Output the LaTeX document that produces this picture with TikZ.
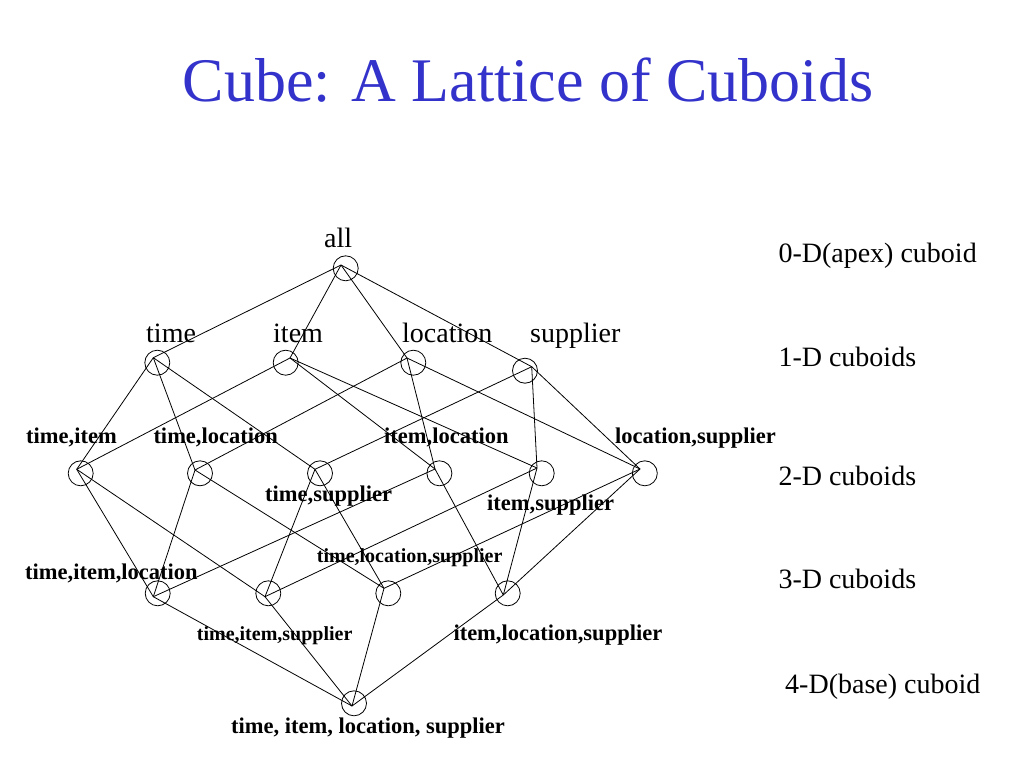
\documentclass[tikz,border=0pt]{standalone}
\usepackage{fontspec}
\setmainfont{Liberation Serif}
\definecolor{titleblue}{RGB}{51,51,204}
\begin{document}
\begin{tikzpicture}[x=1pt,y=-1pt,
  cub/.style={draw,circle,minimum size=25pt,inner sep=0pt,line width=0.8pt},
  edge/.style={line width=0.8pt},
  lab/.style={anchor=base west,inner sep=0pt,font=\fontsize{28}{32}\selectfont},
  blab/.style={anchor=base west,inner sep=0pt,font=\fontsize{22.5}{26}\selectfont\bfseries},
  slab/.style={anchor=base west,inner sep=0pt,font=\fontsize{20}{24}\selectfont\bfseries}]
\useasboundingbox[fill=white] (0,0) rectangle (1024,768);
% title
\node[anchor=base,inner sep=0pt,text=titleblue,font=\fontsize{62}{70}\selectfont] (title) at (528,101) {Cube: A Lattice of Cuboids};
% circles
\node[cub] (apex) at (345.7,268.3) {};
\node[cub] (t) at (157.3,362.7) {};
\node[cub] (i) at (285.7,362.7) {};
\node[cub] (l) at (413.3,362.7) {};
\node[cub] (s) at (525,370.7) {};
\node[cub] (ti) at (80.7,473.3) {};
\node[cub] (tl) at (200,473.3) {};
\node[cub] (ts) at (320,473.3) {};
\node[cub] (il) at (439.4,473.3) {};
\node[cub] (is) at (541.7,473.3) {};
\node[cub] (ls) at (644.8,473.3) {};
\node[cub] (til) at (157.7,593.3) {};
\node[cub] (tis) at (268.3,593.3) {};
\node[cub] (tls) at (388.3,593.3) {};
\node[cub] (ils) at (507.7,593.3) {};
\node[cub] (base) at (354,703.3) {};
% convergence points
\coordinate (apexp) at (341,265);
\coordinate (tp) at (153.3,357.7);
\coordinate (ip) at (290,358);
\coordinate (lp) at (407,358);
\coordinate (sp) at (531.7,366.7);
\coordinate (tip) at (76.7,469.3);
\coordinate (tlp) at (195,470);
\coordinate (tsp) at (315,469.3);
\coordinate (ilp) at (435,469);
\coordinate (isp) at (537,468);
\coordinate (lsp) at (640,469);
\coordinate (tilp) at (153.3,596.7);
\coordinate (tisp) at (265,596.7);
\coordinate (tlsp) at (384,588.3);
\coordinate (ilsp) at (503.3,595);
\coordinate (basep) at (352,706);
% edges
\draw[edge] (apexp) -- (tp);
\draw[edge] (apexp) -- (ip);
\draw[edge] (apexp) -- (lp);
\draw[edge] (apexp) -- (sp);
\draw[edge] (tp) -- (tip);
\draw[edge] (tp) -- (tlp);
\draw[edge] (tp) -- (tsp);
\draw[edge] (ip) -- (tip);
\draw[edge] (ip) -- (ilp);
\draw[edge] (ip) -- (isp);
\draw[edge] (lp) -- (tlp);
\draw[edge] (lp) -- (ilp);
\draw[edge] (lp) -- (lsp);
\draw[edge] (sp) -- (tsp);
\draw[edge] (sp) -- (isp);
\draw[edge] (sp) -- (lsp);
\draw[edge] (tip) -- (tilp);
\draw[edge] (tip) -- (tisp);
\draw[edge] (tlp) -- (tilp);
\draw[edge] (tlp) -- (tlsp);
\draw[edge] (tsp) -- (tisp);
\draw[edge] (tsp) -- (tlsp);
\draw[edge] (ilp) -- (tilp);
\draw[edge] (ilp) -- (ilsp);
\draw[edge] (isp) -- (tisp);
\draw[edge] (isp) -- (ilsp);
\draw[edge] (lsp) -- (tlsp);
\draw[edge] (lsp) -- (ilsp);
\draw[edge] (tilp) -- (basep);
\draw[edge] (tisp) -- (basep);
\draw[edge] (tlsp) -- (basep);
\draw[edge] (ilsp) -- (basep);
% labels
\node[lab] (lall) at (324,247) {all};
\node[lab] (lt) at (146,342) {time};
\node[lab] (li) at (273,342) {item};
\node[lab] (ll) at (402,342) {location};
\node[lab] (ls2) at (530,342) {supplier};
\node[blab] (lti) at (26,443.3) {time,item};
\node[blab] (ltl) at (153.3,443.3) {time,location};
\node[blab] (lil) at (384,443.3) {item,location};
\node[blab] (lls) at (615,443.3) {location,supplier};
\node[blab] (lts) at (265,501.7) {time,supplier};
\node[blab] (lis) at (487,510) {item,supplier};
\node[slab] (ltls) at (316.7,562.7) {time,location,supplier};
\node[blab] (ltil) at (25,579) {time,item,location};
\node[slab] (ltis) at (196.7,640) {time,item,supplier};
\node[blab] (lils) at (453.3,640) {item,location,supplier};
\node[blab] (lbase) at (231,733) {time, item, location, supplier};
\node[lab] (r0) at (778.3,262.3) {0-D(apex) cuboid};
\node[lab] (r1) at (778.3,366.7) {1-D cuboids};
\node[lab] (r2) at (778.3,485) {2-D cuboids};
\node[lab] (r3) at (778.3,588.3) {3-D cuboids};
\node[lab] (r4) at (785,693.3) {4-D(base) cuboid};
\end{tikzpicture}
\end{document}
